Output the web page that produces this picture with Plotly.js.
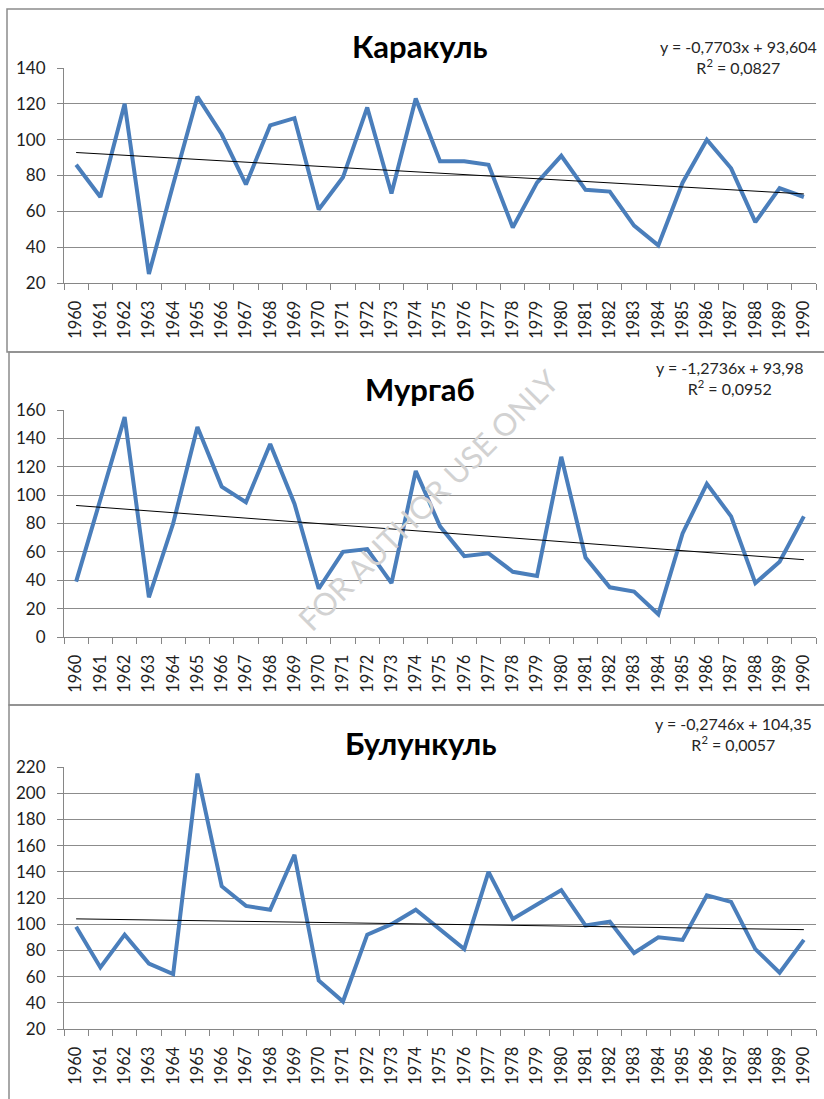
<!DOCTYPE html>
<html>
<head>
<meta charset="utf-8">
<script src="https://cdn.plot.ly/plotly-3.0.1.min.js"></script>
<style>
body { margin: 0; background: #fff; }
#chart { width: 824px; height: 1099px; }
</style>
</head>
<body>
<div id="chart"></div>
<script>
var W = 824, H = 1099;

var years = ["1960","1961","1962","1963","1964","1965","1966","1967","1968","1969","1970",
    "1971","1972","1973","1974","1975","1976","1977","1978","1979","1980",
    "1981","1982","1983","1984","1985","1986","1987","1988","1989","1990"];

var karakul = [86,68,120,25,75,124,103,75,108,112,61,79,118,70,123,88,88,86,51,76,91,72,71,52,41,76,100,84,54,73,68];
var murgab = [39,97,155,28,80,148,106,95,136,94,34,60,62,38,117,78,57,59,46,43,127,56,35,32,16,73,108,85,38,53,85];
var bulunkul = [98,67,92,70,62,215,129,114,111,153,57,41,92,100,111,96,81,140,104,115,126,99,102,78,90,88,122,117,81,63,88];

var titles = ["Каракуль", "Мургаб", "Булункуль"];
var slopes = [-0.7703, -1.2736, -0.2746];
var intercepts = [93.604, 93.98, 104.35];
var eqLabels = ["y = -0,7703x + 93,604", "y = -1,2736x + 93,98", "y = -0,2746x + 104,35"];
var r2Labels = ["0,0827", "0,0952", "0,0057"];
var yRanges = [[20, 140], [0, 160], [20, 220]];

var series = [karakul, murgab, bulunkul];

// pixel boxes of each panel (plot area top/bottom, frame, title and label spots)
var panels = [
    {top: 68, bottom: 283, frameTop: 9, frameLeft: 7, frameBottom: 352, titleY: 46, eqX: 738, eqY: 57},
    {top: 410, bottom: 637, frameTop: 352, frameLeft: 9, frameBottom: 705, titleY: 389, eqX: 730, eqY: 378},
    {top: 767, bottom: 1029, frameTop: 705, frameLeft: 9, frameBottom: 1110, titleY: 743, eqX: 733, eqY: 734}
];
var plotLeft = 64, plotRight = 816;

function px(x) { return x / W; }
function py(y) { return 1 - y / H; }

var traces = [];
var layout = {
    width: W, height: H,
    margin: {l: 0, r: 0, t: 0, b: 0},
    paper_bgcolor: "#fff",
    plot_bgcolor: "#fff",
    showlegend: false,
    font: {family: "Lato, 'DejaVu Sans', sans-serif", color: "#262626"},
    annotations: [],
    shapes: []
};

for (var p = 0; p < 3; p++) {
    var sfx = p == 0 ? "" : String(p + 1);
    var trend = [];
    for (var i = 0; i < years.length; i++) {
        trend.push(intercepts[p] + slopes[p] * (i + 1));
    }
    traces.push({
        x: years, y: series[p], type: "scatter", mode: "lines",
        line: {color: "#4a7ebb", width: 4},
        xaxis: "x" + sfx, yaxis: "y" + sfx, hoverinfo: "skip"
    });
    traces.push({
        x: years, y: trend, type: "scatter", mode: "lines",
        line: {color: "#000", width: 1},
        xaxis: "x" + sfx, yaxis: "y" + sfx, hoverinfo: "skip"
    });

    var pn = panels[p];
    layout["xaxis" + sfx] = {
        type: "category",
        domain: [px(plotLeft), px(plotRight)],
        range: [-0.5, years.length - 0.5],
        anchor: "y" + sfx,
        tickson: "boundaries",
        ticks: "outside", ticklen: 6, tickcolor: "#868686",
        showline: true, linecolor: "#868686", linewidth: 1,
        showgrid: false, zeroline: false,
        tickangle: -90,
        ticklabelstandoff: 10,
        tickfont: {size: 16.5, color: "#1e1e1e"}
    };
    layout["yaxis" + sfx] = {
        domain: [py(pn.bottom), py(pn.top)],
        range: yRanges[p],
        dtick: 20,
        anchor: "x" + sfx,
        ticks: "outside", ticklen: 6, tickcolor: "#868686",
        showline: true, linecolor: "#868686", linewidth: 1,
        showgrid: true, gridcolor: "#8c8c8c", gridwidth: 1,
        zeroline: false,
        ticklabelstandoff: 8,
        tickfont: {size: 17, color: "#1e1e1e"}
    };

    layout.annotations.push({
        text: "<b>" + titles[p] + "</b>",
        xref: "paper", yref: "paper",
        x: px(420), y: py(pn.titleY),
        xanchor: "center", yanchor: "middle",
        showarrow: false,
        font: {size: 31, color: "#000"}
    });
    layout.annotations.push({
        text: eqLabels[p] + "<br>R<sup>2</sup> = " + r2Labels[p],
        xref: "paper", yref: "paper",
        x: px(pn.eqX), y: py(pn.eqY),
        xanchor: "center", yanchor: "middle",
        align: "center",
        showarrow: false,
        font: {size: 16, color: "#262626"}
    });
    layout.shapes.push({
        type: "rect", xref: "paper", yref: "paper",
        x0: px(pn.frameLeft), x1: px(840),
        y0: py(pn.frameBottom), y1: py(pn.frameTop),
        line: {color: "#8c8c8c", width: 1.5},
        fillcolor: "rgba(0,0,0,0)",
        layer: "below"
    });
}

// watermark
layout.annotations.push({
    text: "FOR AUTHOR USE ONLY",
    xref: "paper", yref: "paper",
    x: px(428), y: py(500),
    xanchor: "center", yanchor: "middle",
    textangle: -45,
    showarrow: false,
    font: {size: 31, color: "#d2d2d2"}
});

Plotly.newPlot("chart", traces, layout, {staticPlot: true});
</script>
</body>
</html>
